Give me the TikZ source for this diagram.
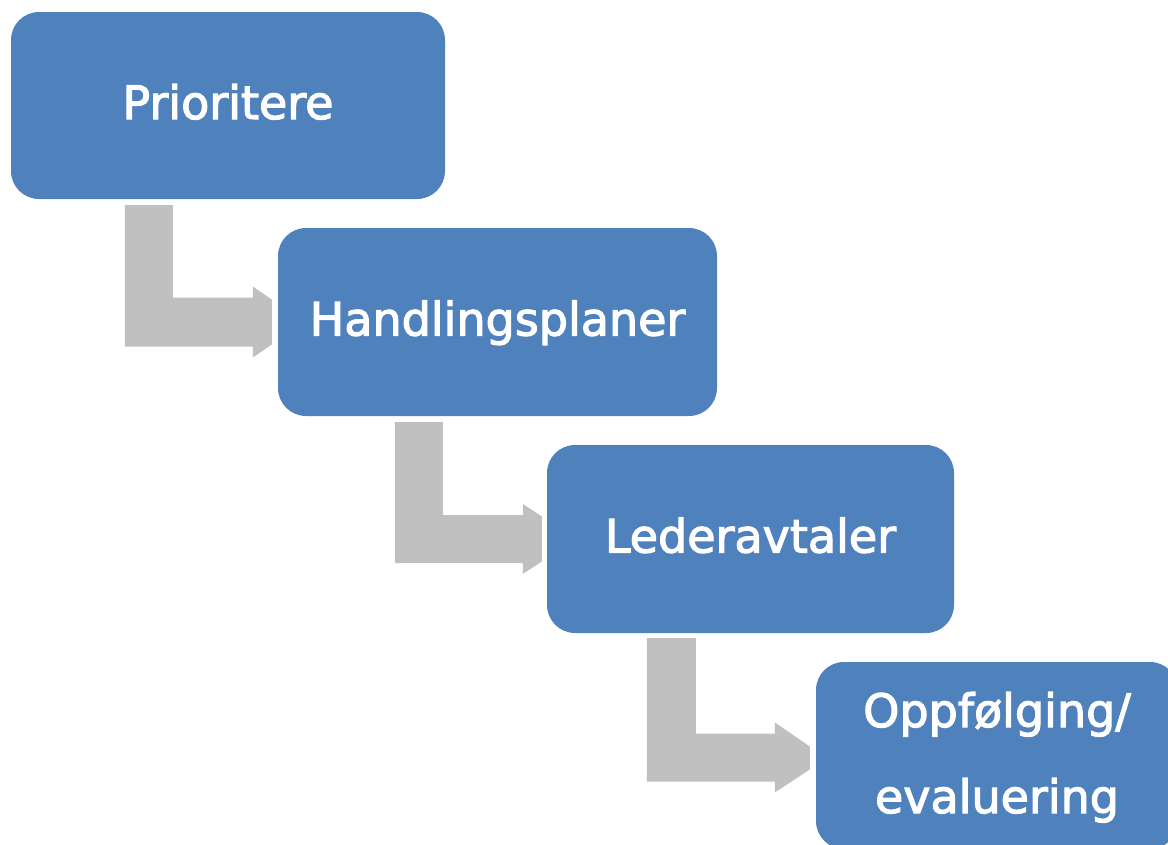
\documentclass[tikz,border=0pt]{standalone}
\usepackage{fontspec}
\setmainfont{DejaVu Sans}
\newfontfamily\boxfont{DejaVu Sans}[FakeBold=2.5]
\usetikzlibrary{calc}
\definecolor{boxblue}{HTML}{4F81BD}
\definecolor{arrowgray}{HTML}{C0C0C0}
\tikzset{
  stepbox/.style={rectangle, rounded corners=28pt, fill=boxblue, draw=none,
    text=white, inner sep=0pt, font=\fontsize{46}{86}\boxfont,
    text height=27pt, text depth=0pt},
  bentarrow/.style={fill=arrowgray, draw=none}
}
\begin{document}
\begin{tikzpicture}[x=1pt,y=-1pt]
\useasboundingbox (0,0) rectangle (1168,844);
\clip (0,0) rectangle (1168,844);
\node[stepbox, minimum width=434pt, minimum height=187pt] (b1) at (228,105.5) {Prioritere};
\node[stepbox, minimum width=439pt, minimum height=188pt] (b2) at (497.5,322) {Handlingsplaner};
\node[stepbox, minimum width=407pt, minimum height=188pt] (b3) at (750.5,539) {Lederavtaler};
\node[stepbox, minimum width=362pt, minimum height=187pt, align=center, text height=115pt] (b4) at (997,755.5) {Oppfølging/\\evaluering};
% arrow 1
\fill[bentarrow] ($(b1.south west)+(114,6)$) -- ($(b1.south west)+(162,6)$)
  |- ($(b2.west)+(-25,-24.5)$) -- ($(b2.west)+(-25,-35.5)$)
  -- ($(b2.west)+(-6,-22.5)$) -- ($(b2.west)+(-6,22.5)$)
  -- ($(b2.west)+(-25,35.5)$) -- ($(b2.west)+(-25,24.5)$)
  -| cycle;
% arrow 2
\fill[bentarrow] ($(b2.south west)+(117,6)$) -- ($(b2.south west)+(165,6)$)
  |- ($(b3.west)+(-24,-24)$) -- ($(b3.west)+(-24,-35)$)
  -- ($(b3.west)+(-5,-22.5)$) -- ($(b3.west)+(-5,22.5)$)
  -- ($(b3.west)+(-24,35)$) -- ($(b3.west)+(-24,24)$)
  -| cycle;
% arrow 3
\fill[bentarrow] ($(b3.south west)+(100,5)$) -- ($(b3.south west)+(149,5)$)
  |- ($(b4.west)+(-41,-22)$) -- ($(b4.west)+(-41,-33)$)
  -- ($(b4.west)+(-6,-9)$) -- ($(b4.west)+(-6,14)$)
  -- ($(b4.west)+(-41,37)$) -- ($(b4.west)+(-41,26)$)
  -| cycle;
\end{tikzpicture}
\end{document}
